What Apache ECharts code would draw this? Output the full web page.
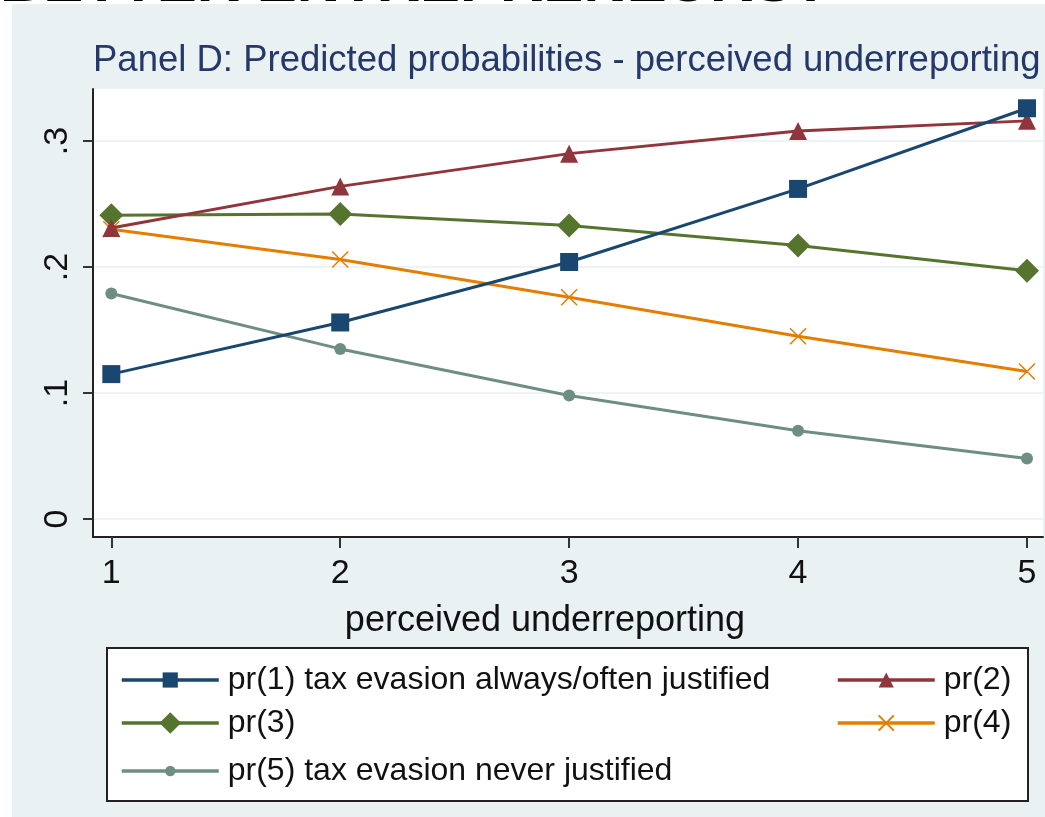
<!DOCTYPE html>
<html>
<head>
<meta charset="utf-8">
<script src="https://cdn.jsdelivr.net/npm/echarts@6/dist/echarts.min.js"></script>
<style>
html,body{margin:0;padding:0;background:#ffffff;}
#chart{width:1045px;height:817px;}
</style>
</head>
<body>
<div id="chart"></div>
<script>
const xValues = [1, 2, 3, 4, 5];
const xTicks = [1, 2, 3, 4, 5];
const yTicks = [0, 0.1, 0.2, 0.3];
const seriesNames = [
  'pr(1) tax evasion always/often justified',
  'pr(2)',
  'pr(3)',
  'pr(4)',
  'pr(5) tax evasion never justified'
];
const pr1 = [0.115, 0.156, 0.204, 0.262, 0.326];
const pr2 = [0.231, 0.264, 0.290, 0.308, 0.316];
const pr3 = [0.241, 0.242, 0.233, 0.217, 0.197];
const pr4 = [0.230, 0.206, 0.176, 0.145, 0.117];
const pr5 = [0.179, 0.135, 0.098, 0.070, 0.048];
const titleText = 'Panel D: Predicted probabilities - perceived underreporting';
const xAxisTitle = 'perceived underreporting';
const topCutText = 'BETTER ENTREPRENEURS?';

const colors = ['#1a476f', '#90353b', '#55752f', '#e37e00', '#6e8e84'];
const symbols = ['rect', 'triangle', 'diamond', 'path://M0,0L10,10M10,0L0,10', 'circle'];
const symbolSizes = [18, 18, 24, 16, 12];
const legendIconHeights = [19, 19, 27, 19, 13];
const dataSets = [pr1, pr2, pr3, pr4, pr5];

const font = '"Liberation Sans", Arial, sans-serif';

const series = dataSets.map((d, i) => ({
  name: seriesNames[i],
  type: 'line',
  data: xValues.map((x, j) => [x, d[j]]),
  symbol: symbols[i],
  symbolSize: symbolSizes[i],
  showSymbol: true,
  lineStyle: { color: colors[i], width: 3 },
  itemStyle: i === 3
    ? { color: 'rgba(0,0,0,0)', borderColor: colors[i], borderWidth: 1.5 }
    : { color: colors[i], borderWidth: 0 },
  emphasis: { disabled: true },
  animation: false,
  z: 5 - i
}));

const legendCenters = [
  { left: 120, cy: 680 },
  { left: 836, cy: 680 },
  { left: 120, cy: 723 },
  { left: 836, cy: 723 },
  { left: 120, cy: 771 }
];
const legends = seriesNames.map((n, i) => ({
  data: [n],
  left: legendCenters[i].left,
  top: legendCenters[i].cy - 18,
  itemWidth: 97,
  itemHeight: legendIconHeights[i],
  itemGap: 0,
  padding: 0,
  lineStyle: { width: 3.5 },
  textStyle: { fontFamily: font, fontSize: 32, color: '#111', padding: [0, 0, 0, 4], height: 36, lineHeight: 36 },
  selectedMode: false
}));

const chart = echarts.init(document.getElementById('chart'), null, { renderer: 'canvas' });
chart.setOption({
  backgroundColor: '#ffffff',
  animation: false,
  graphic: [
    { type: 'text', left: 0, top: -46, z: -20,
      style: { text: topCutText, font: 'bold 60px "Liberation Sans", Arial, sans-serif', fill: '#000' } },
    { type: 'rect', shape: { x: 12, y: 4, width: 1045, height: 820 }, z: -10, silent: true,
      style: { fill: '#eaf1f3' } },
    { type: 'rect', shape: { x: 107, y: 648, width: 921, height: 153 }, z: 1, silent: true,
      style: { fill: '#ffffff', stroke: '#222', lineWidth: 2 } },
    { type: 'text', x: 93, y: 42, z: 10,
      style: { text: titleText, font: '36.5px "Liberation Sans", Arial, sans-serif', fill: '#24386a' } }
  ],
  grid: { left: 93, right: 2, top: 89, bottom: 280, show: true, backgroundColor: '#ffffff', borderWidth: 0 },
  xAxis: {
    type: 'value', min: 0.92, max: 5.07,
    axisLine: { show: true, onZero: false, lineStyle: { color: '#222', width: 2 } },
    axisTick: { show: true, customValues: xTicks, length: 11, lineStyle: { color: '#333', width: 2 } },
    axisLabel: { customValues: xTicks, fontFamily: font, fontSize: 34, color: '#111', margin: 20 },
    splitLine: { show: false },
    name: xAxisTitle, nameLocation: 'middle', nameGap: 66,
    nameTextStyle: { fontFamily: font, fontSize: 36, color: '#111', padding: [0, 46, 0, 0] }
  },
  yAxis: {
    type: 'value', min: -0.01429, max: 0.3413,
    axisLine: { show: true, onZero: false, lineStyle: { color: '#222', width: 2 } },
    axisTick: { show: true, customValues: yTicks, length: 10, lineStyle: { color: '#333', width: 2 } },
    axisLabel: { customValues: yTicks, rotate: 90, fontFamily: font, fontSize: 34, color: '#111', margin: 18,
      formatter: v => v === 0 ? '0' : String(v.toFixed(1)).replace(/^0/, '') },
    splitLine: { show: true, lineStyle: { color: '#eef4f6', width: 2 } }
  },
  legend: legends,
  series: series
});
</script>
</body>
</html>
